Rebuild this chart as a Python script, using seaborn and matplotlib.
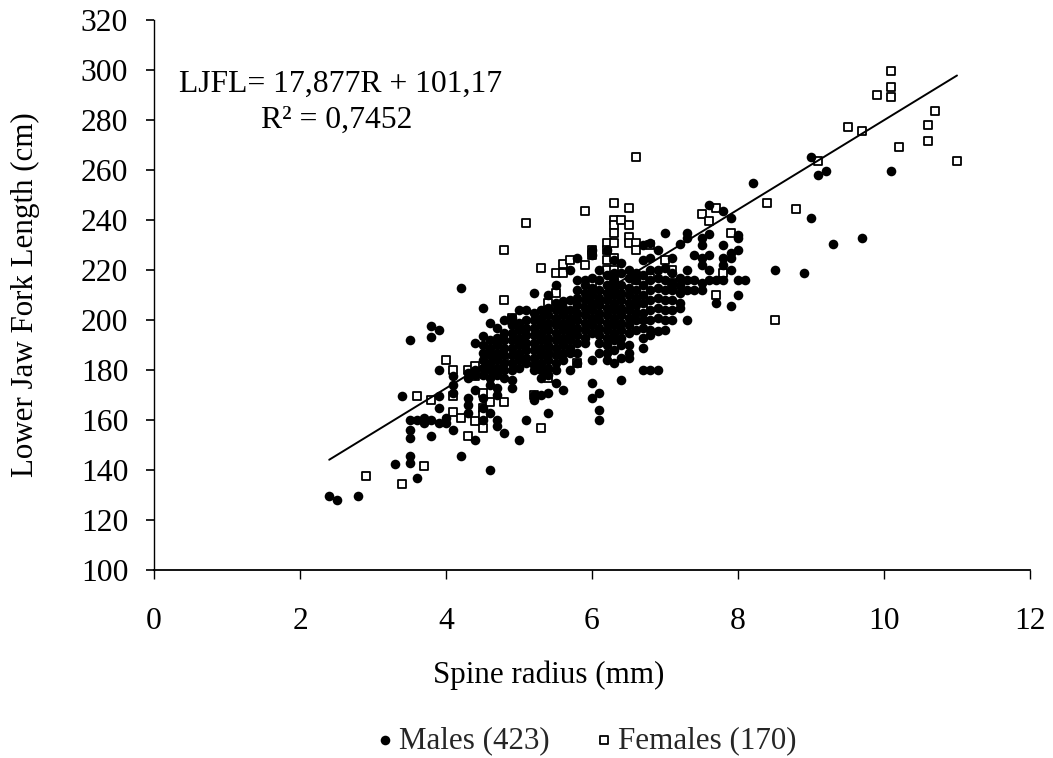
import pandas as pd
import seaborn as sns
import matplotlib.pyplot as plt

# values, one list of lengths per spine radius
male_radius = [2.4, 2.5, 2.8, 3.3, 3.4, 3.5, 3.6, 3.7, 3.8, 3.9, 4.0, 4.1, 4.2, 4.3, 4.4, 4.5, 4.6, 4.7, 4.8, 4.9,
               5.0, 5.1, 5.2, 5.3, 5.4, 5.5, 5.6, 5.7, 5.8, 5.9, 6.0, 6.1, 6.2, 6.3, 6.4, 6.5, 6.6, 6.7, 6.8, 6.9,
               7.0, 7.1, 7.2, 7.3, 7.4, 7.5, 7.6, 7.7, 7.8, 7.9, 8.0, 8.1, 8.2, 8.5, 8.9, 9.0, 9.1, 9.2, 9.3, 9.7, 10.1]
male_length = [
    [129.6], [128], [129.6], [142.4], [169.6],
    [192, 160, 156, 152.7, 145.6, 142.7],
    [160, 136.8],
    [161, 159],
    [197.6, 193.3, 160, 153.6],
    [196, 180, 169.6, 165, 159],
    [161, 159],
    [177.6, 174, 171, 156],
    [212.7, 145.6],
    [179, 176.7, 168.7, 166, 163],
    [191, 180, 178, 172, 152],
    [204.7, 193.6, 190, 187, 184, 181, 178, 168.7, 165, 160],
    [199, 192, 189, 186, 183, 180, 177, 174, 163, 140],
    [196.8, 193, 190, 187, 184, 181, 178, 172.7, 170, 160, 157.6],
    [200, 195, 192, 189, 186, 183, 180, 177, 155],
    [201, 198, 195, 192, 189, 186, 183, 180, 176, 173],
    [204, 199, 196, 193, 190, 187, 184, 181, 152],
    [204, 200, 197, 194, 191, 188, 185, 183, 160],
    [211, 203, 200, 197, 194, 191, 188, 185, 182, 180, 170, 168],
    [204, 201, 198, 195, 192, 189, 186, 183, 180, 177, 170],
    [210, 205, 202, 199, 196, 193, 190, 187, 184, 181, 178, 171, 163],
    [214, 207, 204, 201, 198, 195, 192, 189, 186, 183, 180, 175],
    [207.6, 205, 202, 199, 196, 193, 190, 187, 184, 172],
    [220, 208, 204, 201, 198, 195, 192, 189, 186.7, 180],
    [224.7, 216, 212, 209, 206, 203, 200, 197, 194, 191, 186.7, 183],
    [216, 214, 211, 208, 205, 202, 199, 196, 193, 191],
    [228, 226, 216.7, 213, 210, 207, 204, 201, 198, 194.7, 184, 175, 169],
    [220, 216, 212, 209, 206, 203, 200, 197, 194, 191, 187, 171, 164, 160],
    [228, 218, 214, 211, 208, 205, 202, 199, 196, 193, 190, 187, 184],
    [224, 219, 216, 213, 210, 207, 204, 201, 198, 195, 192, 188, 183],
    [223, 219, 214, 211, 208, 205, 202, 199, 196, 193, 190, 184.7, 176],
    [220, 217, 213, 210, 207, 204, 201, 198, 195, 190, 187, 184.7],
    [219, 216, 212, 209, 206, 203, 200, 196],
    [230, 224, 218, 214, 210, 207, 203, 200, 197, 193, 189, 180],
    [231, 225, 220, 216, 212, 208, 204, 200, 196, 194, 180],
    [228, 220, 217, 213, 209, 205, 201, 195.6, 180],
    [235, 221, 216, 212, 208, 204, 200, 196],
    [224.7, 219, 215, 212, 208, 204, 200],
    [230.4, 217, 214, 211, 207, 205],
    [235, 232.7, 220, 216, 212, 200],
    [226, 216, 212],
    [233, 230, 224.7, 222, 215, 212],
    [246, 234.4, 226, 220, 216],
    [216, 207],
    [243.5, 230, 225, 222, 216],
    [240.7, 227, 225, 220, 205.7],
    [234, 232.7, 228, 216, 210],
    [216], [255], [220], [219], [265.3, 240.7], [258], [259.7], [230.3], [232.7], [259.7],
]

female_radius = [2.9, 3.4, 3.6, 3.7, 3.8, 4.0, 4.1, 4.2, 4.3, 4.4, 4.5, 4.6, 4.7, 4.8, 4.9, 5.1, 5.2, 5.3, 5.4, 5.5,
                 5.6, 5.7, 5.8, 5.9, 6.0, 6.2, 6.3, 6.4, 6.5, 6.6, 6.7, 6.8, 7.0, 7.1, 7.2, 7.5, 7.6, 7.7, 7.8, 7.9,
                 8.4, 8.5, 8.8, 9.1, 9.5, 9.7, 9.9, 10.1, 10.2, 10.6, 10.7, 11.0]
female_length = [
    [137.6], [134.4], [169.6], [141.6], [168], [184], [180, 169.6, 163.2], [160.8], [180, 153.6],
    [181.6, 177.6, 159.5],
    [171, 165, 162, 156.8],
    [167.2],
    [179],
    [227.9, 207.9, 167.2],
    [201, 200, 184.6],
    [239], [170], [220.7, 156.7],
    [207, 200.7, 186.7, 176.7],
    [219, 211],
    [222.4, 219],
    [224, 198],
    [182.7],
    [243.7, 222],
    [228, 226, 215],
    [231, 228, 224, 220, 207],
    [247, 240, 238, 234.7, 230.7, 224.7, 220, 216, 212.4],
    [240],
    [244.7, 238, 233.3, 231, 202.7],
    [265.3, 231, 228, 216],
    [208, 204.7],
    [230, 216.7],
    [224],
    [220, 214.7],
    [214],
    [242.4],
    [239.7],
    [244.7, 210],
    [219],
    [235],
    [247], [200], [244.5], [263.7], [277.3], [275.7], [290],
    [299.7, 293.3, 289.3],
    [269.3],
    [278, 271.7],
    [283.7],
    [263.7],
]

fit_x = [2.4, 11.0]
fit_y = [144.1, 297.8]

x_ticks = [0, 2, 4, 6, 8, 10, 12]
y_ticks = [100, 120, 140, 160, 180, 200, 220, 240, 260, 280, 300, 320]

males = pd.DataFrame([(r, l) for r, ls in zip(male_radius, male_length) for l in ls], columns=['radius', 'length'])
females = pd.DataFrame([(r, l) for r, ls in zip(female_radius, female_length) for l in ls], columns=['radius', 'length'])

sns.set_theme(style='ticks')
plt.rcParams['font.family'] = ['Liberation Serif', 'DejaVu Sans']
font_size = 22.8
label_size = 22.3

fig = plt.figure(figsize=(10.53, 7.58), dpi=100)
ax = fig.add_axes([154 / 1053, 1 - 570 / 758, (1030 - 154) / 1053, (570 - 20) / 758])

sns.scatterplot(data=females, x='radius', y='length', marker='s', s=40, color='white',
                edgecolor='black', linewidth=1.3, ax=ax, label='Females (170)', zorder=2)
sns.scatterplot(data=males, x='radius', y='length', marker='o', s=48, color='black',
                edgecolor='black', linewidth=0, ax=ax, label='Males (423)', zorder=3)
sns.lineplot(x=fit_x, y=fit_y, color='black', linewidth=1.4, ax=ax, zorder=4, legend=False)

ax.set_xlim(0, 12)
ax.set_ylim(100, 320)
ax.set_xticks(x_ticks)
ax.set_yticks(y_ticks)
ax.tick_params(axis='x', labelsize=font_size, length=6.5, width=1, color='black', labelcolor='black', pad=20)
ax.tick_params(axis='y', labelsize=font_size, length=5.5, width=1.2, color='black', labelcolor='black', pad=13)
sns.despine(ax=ax)
ax.spines['left'].set_color('black')
ax.spines['left'].set_linewidth(1)
ax.spines['bottom'].set_color('black')
ax.spines['bottom'].set_linewidth(1.3)

ax.set_xlabel('Spine radius (mm)', fontsize=label_size, color='black')
ax.set_ylabel('Lower Jaw Fork Length (cm)', fontsize=label_size, color='black')
ax.xaxis.set_label_coords(0.451, -0.165)
ax.yaxis.set_label_coords(-0.130, 0.5)

fig.text(341 / 1053, 1 - 84 / 758, 'LJFL= 17,877R + 101,17', fontsize=font_size, ha='center', va='center', color='black')
fig.text(337 / 1053, 1 - 120 / 758, 'R² = 0,7452', fontsize=font_size, ha='center', va='center', color='black')

handles, labels = ax.get_legend_handles_labels()
order = [labels.index('Males (423)'), labels.index('Females (170)')]
ax.legend([handles[i] for i in order], [labels[i] for i in order], ncol=2, frameon=False, fontsize=label_size,
          loc='center', bbox_to_anchor=(587 / 1053, 1 - 741 / 758), bbox_transform=fig.transFigure,
          handlelength=0.5, handletextpad=0.2, columnspacing=1.5, markerscale=1.0)

fig.savefig('out.png', dpi=100)
